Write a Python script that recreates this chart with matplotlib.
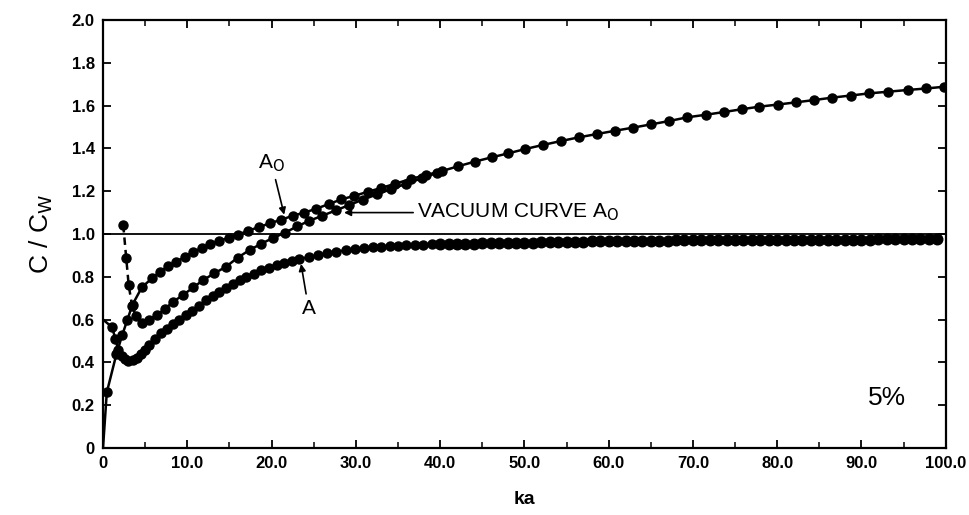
import matplotlib
matplotlib.use("Agg")
import matplotlib.pyplot as plt
from matplotlib.ticker import MultipleLocator, FixedLocator

plt.rcParams['font.family'] = ['Liberation Sans', 'DejaVu Sans']

# Upper curve A_O (starts at origin)
ka_A0 = [0.0, 0.45, 1.6, 2.3, 2.9, 3.5, 4.6, 5.8, 6.8, 7.7, 8.7, 9.7, 10.7, 11.7, 12.7,
         13.8, 14.9, 16.0, 17.2, 18.5, 19.8, 21.1, 22.5, 23.9, 25.3, 26.8, 28.3, 29.8,
         31.4, 33.0, 34.7, 36.5, 38.3, 40.2, 42.1, 44.1, 46.1, 48.1, 50.1, 52.2, 54.3,
         56.5, 58.6, 60.7, 62.9, 65.0, 67.2, 69.3, 71.5, 73.7, 75.8, 77.9, 80.1, 82.2,
         84.4, 86.5, 88.7, 90.9, 93.2, 95.5, 97.7, 99.8]
c_A0 = [0.0, 0.26, 0.44, 0.53, 0.60, 0.67, 0.75, 0.793, 0.824, 0.85, 0.87, 0.893, 0.915,
        0.935, 0.952, 0.968, 0.982, 0.996, 1.015, 1.032, 1.05, 1.066, 1.085, 1.10, 1.118,
        1.14, 1.162, 1.178, 1.197, 1.215, 1.235, 1.257, 1.275, 1.294, 1.316, 1.338, 1.358,
        1.377, 1.397, 1.416, 1.434, 1.452, 1.467, 1.482, 1.497, 1.512, 1.528, 1.545, 1.557,
        1.570, 1.583, 1.595, 1.605, 1.615, 1.626, 1.637, 1.647, 1.657, 1.665, 1.673, 1.680,
        1.688]

# Vacuum curve A_O (middle)
ka_V = [2.4, 2.75, 3.05, 3.45, 3.9, 4.6, 5.4, 6.4, 7.35, 8.35, 9.5, 10.7, 11.9, 13.2,
        14.6, 16.0, 17.4, 18.8, 20.2, 21.6, 23.0, 24.5, 26.0, 27.6, 29.2, 30.8, 32.5,
        34.2, 36.0, 37.8, 39.6]
c_V = [1.042, 0.89, 0.76, 0.665, 0.615, 0.585, 0.598, 0.621, 0.65, 0.684, 0.715, 0.75,
       0.785, 0.816, 0.847, 0.89, 0.925, 0.955, 0.982, 1.006, 1.035, 1.062, 1.085, 1.11,
       1.135, 1.16, 1.185, 1.21, 1.235, 1.26, 1.285]

# Lower curve A
ka_A = [0.0, 1.1, 1.45, 1.8, 2.2, 2.6, 3.0, 3.5, 4.0, 4.5, 5.0, 5.5, 6.2, 6.9, 7.6, 8.3,
        9.0, 9.8, 10.6, 11.4, 12.2, 13.0, 13.8, 14.6, 15.4, 16.2, 17.0, 17.9, 18.8, 19.7,
        20.6, 21.5, 22.4, 23.3, 24.4, 25.5, 26.6, 27.7, 28.8, 29.9, 31.0, 32.0, 33.0,
        34.0, 35.0, 36.0, 37.0, 38.0, 39.0, 40.0, 41.0, 42.0, 43.0, 44.0, 45.0, 46.0,
        47.0, 48.0, 49.0, 50.0, 51.0, 52.0, 53.0, 54.0, 55.0, 56.0, 57.0, 58.0, 59.0,
        60.0, 61.0, 62.0, 63.0, 64.0, 65.0, 66.0, 67.0, 68.0, 69.0, 70.0, 71.0, 72.0,
        73.0, 74.0, 75.0, 76.0, 77.0, 78.0, 79.0, 80.0, 81.0, 82.0, 83.0, 84.0, 85.0,
        86.0, 87.0, 88.0, 89.0, 90.0, 91.0, 92.0, 93.0, 94.0, 95.0, 96.0, 97.0, 98.0,
        99.0]
c_A = [0.60, 0.564, 0.51, 0.46, 0.43, 0.415, 0.405, 0.41, 0.42, 0.44, 0.46, 0.483, 0.51,
       0.537, 0.558, 0.578, 0.598, 0.62, 0.64, 0.665, 0.69, 0.71, 0.73, 0.748, 0.765,
       0.783, 0.80, 0.815, 0.83, 0.843, 0.855, 0.865, 0.873, 0.883, 0.892, 0.90, 0.909,
       0.917, 0.924, 0.93, 0.935, 0.938, 0.941, 0.943, 0.945, 0.947, 0.949, 0.95, 0.951,
       0.952, 0.953, 0.954, 0.955, 0.955, 0.956, 0.957, 0.957, 0.958, 0.959, 0.959,
       0.960, 0.961, 0.961, 0.962, 0.963, 0.963, 0.964, 0.965, 0.965, 0.966, 0.966,
       0.967, 0.967, 0.968, 0.968, 0.969, 0.969, 0.970, 0.970, 0.970, 0.970, 0.971,
       0.971, 0.971, 0.971, 0.972, 0.972, 0.972, 0.972, 0.972, 0.973, 0.973, 0.973,
       0.973, 0.973, 0.974, 0.974, 0.974, 0.974, 0.974, 0.974, 0.975, 0.975, 0.975,
       0.975, 0.975, 0.975, 0.975, 0.975]

xticks = [0, 10, 20, 30, 40, 50, 60, 70, 80, 90, 100]
xticklabels = ['0', '10.0', '20.0', '30.0', '40.0', '50.0', '60.0', '70.0', '80.0', '90.0', '100.0']
yticks = [0, 0.2, 0.4, 0.6, 0.8, 1.0, 1.2, 1.4, 1.6, 1.8, 2.0]
yticklabels = ['0', '0.2', '0.4', '0.6', '0.8', '1.0', '1.2', '1.4', '1.6', '1.8', '2.0']

fig = plt.figure(figsize=(9.69, 5.15), dpi=100)
ax = fig.add_axes([0.1063, 0.1301, 0.8697, 0.8311])

ax.axhline(1.0, color='black', lw=1.3, zorder=1)

ms = 6.5
# upper A_O
ax.plot(ka_A0, c_A0, color='black', lw=1.8, zorder=2)
ax.plot(ka_A0[1:], c_A0[1:], 'o', color='black', ms=ms, zorder=3)
# vacuum curve: dashed steep drop then solid
ax.plot(ka_V[:4], c_V[:4], color='black', lw=1.8, ls=(0, (3, 2)), zorder=2)
ax.plot(ka_V[3:], c_V[3:], color='black', lw=1.8, zorder=2)
ax.plot(ka_V, c_V, 'o', color='black', ms=ms, zorder=3)
# lower A
ax.plot(ka_A, c_A, color='black', lw=1.8, zorder=2)
n_tail = ka_A.index(40.0)
ax.plot(ka_A[1:n_tail], c_A[1:n_tail], 'o', color='black', ms=ms, zorder=3)
ax.plot(ka_A[n_tail:], c_A[n_tail:], 'o', color='black', ms=7.6, zorder=3)

ax.set_xlim(0, 100)
ax.set_ylim(0, 2.0)
ax.xaxis.set_major_locator(FixedLocator(xticks))
ax.set_xticklabels(xticklabels)
ax.xaxis.set_minor_locator(MultipleLocator(5))
ax.yaxis.set_major_locator(FixedLocator(yticks))
ax.set_yticklabels(yticklabels)

ax.tick_params(axis='both', which='major', direction='in', length=6, width=1.3,
               top=True, right=True, labelsize=12, pad=6)
ax.tick_params(axis='both', which='minor', direction='in', length=4, width=1.1,
               top=True, right=True)
for lab in ax.get_xticklabels() + ax.get_yticklabels():
    lab.set_fontweight('bold')
for sp in ax.spines.values():
    sp.set_linewidth(1.6)

ax.set_xlabel('ka', fontsize=14, fontweight='bold', labelpad=14)
ax.set_ylabel('C / C$_\\mathrm{W}$', fontsize=19, labelpad=12)

arrow = dict(arrowstyle='-|>', color='black', lw=1.2, mutation_scale=10, shrinkA=2, shrinkB=0)
ax.annotate('A$_\\mathrm{O}$', xy=(21.5, 1.09), xytext=(20.0, 1.33), fontsize=15,
            ha='center', va='center', arrowprops=arrow)
ax.annotate('VACUUM CURVE A$_\\mathrm{O}$', xy=(28.6, 1.10), xytext=(37.3, 1.10),
            fontsize=15, ha='left', va='center',
            arrowprops=dict(arrowstyle='-|>', color='black', lw=1.2, mutation_scale=10,
                            shrinkA=1, shrinkB=0))
ax.annotate('A', xy=(23.5, 0.86), xytext=(24.4, 0.65), fontsize=15,
            ha='center', va='center', arrowprops=arrow)
ax.text(93, 0.235, '5%', fontsize=19, ha='center', va='center')

fig.savefig('out.png', dpi=100)
